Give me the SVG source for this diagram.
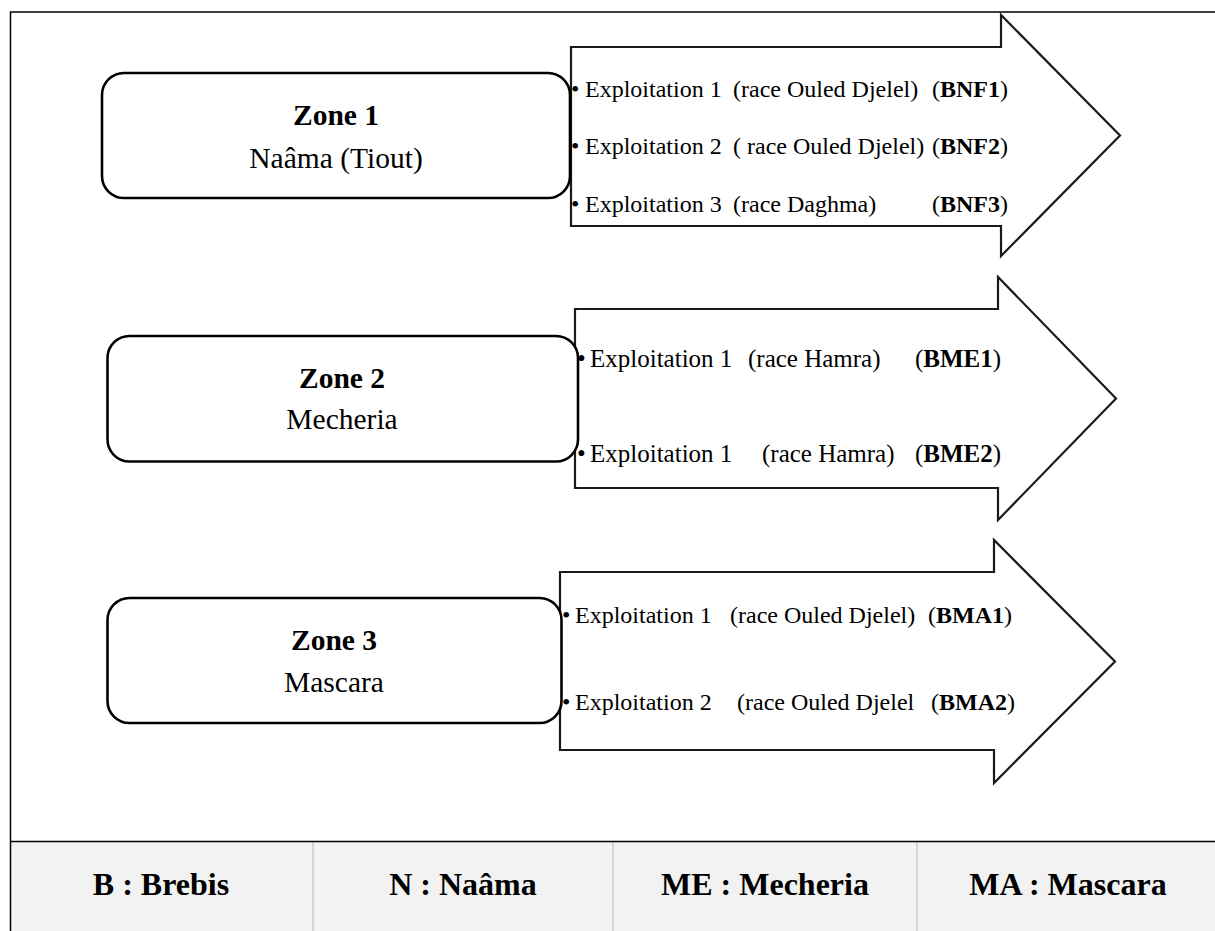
<svg xmlns="http://www.w3.org/2000/svg" width="1215" height="931" viewBox="0 0 1215 931">
<style>
.frame{fill:none;stroke:#000;stroke-width:1.5}
.arrow{fill:#fff;stroke:#1a1a1a;stroke-width:2.2;stroke-linejoin:miter}
.zone{fill:#fff;stroke:#000;stroke-width:2.6}
.t{font-family:"Liberation Serif","Times New Roman",serif;fill:#000;white-space:pre}
.b{font-weight:bold}
.a1{font-size:24px}
.a2{font-size:25px}
.zt{font-size:29.5px;text-anchor:middle}
.leg{font-size:32px;font-weight:bold;text-anchor:middle}
.cell{fill:#f2f2f2}
.div{stroke:#c0c0c0;stroke-width:1.2}
</style>
<rect x="0" y="0" width="1215" height="931" fill="#fff"/>
<g id="legend">
<rect class="cell" x="11" y="842" width="1204" height="89"/>
<line class="div" x1="313" y1="842" x2="313" y2="931"/>
<line class="div" x1="613" y1="842" x2="613" y2="931"/>
<line class="div" x1="917" y1="842" x2="917" y2="931"/>
<line x1="10" y1="841.5" x2="1215" y2="841.5" stroke="#000" stroke-width="1.5"/>
<text class="t leg" x="161" y="895">B : Brebis</text>
<text class="t leg" x="463" y="895">N : Naâma</text>
<text class="t leg" x="765" y="895">ME : Mecheria</text>
<text class="t leg" x="1068" y="895">MA : Mascara</text>
</g>
<path class="frame" d="M1215,12 H10.5 V931"/>
<g id="connectors">
<path id="arrow1" class="arrow" d="M571,47 H1001 V15 L1120,135.5 L1001,256 V226 H571 Z"/>
<path id="arrow2" class="arrow" d="M575,309 H998 V277 L1116,398.5 L998,520 V488 H575 Z"/>
<path id="arrow3" class="arrow" d="M560,572 H994 V540 L1115,661.5 L994,783 V750 H560 Z"/>
</g>
<g id="zone1">
<rect class="zone" x="102" y="73" width="468" height="125" rx="22" ry="22"/>
<text class="t zt b" x="336" y="125">Zone 1</text>
<text class="t zt" x="336" y="168">Naâma (Tiout)</text>
</g>
<g id="zone2">
<rect class="zone" x="107.5" y="336" width="470.5" height="125.5" rx="22" ry="22"/>
<text class="t zt b" x="342" y="388">Zone 2</text>
<text class="t zt" x="342" y="429">Mecheria</text>
</g>
<g id="zone3">
<rect class="zone" x="107.5" y="598" width="454" height="125" rx="22" ry="22"/>
<text class="t zt b" x="334" y="650">Zone 3</text>
<text class="t zt" x="334" y="692">Mascara</text>
</g>
<g id="items1">
<text class="t a1" y="97"><tspan x="571">•</tspan><tspan x="585">Exploitation 1</tspan><tspan x="733">(race Ouled Djelel)</tspan></text>
<text class="t a1" x="1008" y="97" text-anchor="end">(<tspan class="b">BNF1</tspan>)</text>
<text class="t a1" y="154"><tspan x="571">•</tspan><tspan x="585">Exploitation 2</tspan><tspan x="733">( race Ouled Djelel)</tspan></text>
<text class="t a1" x="1008" y="154" text-anchor="end">(<tspan class="b">BNF2</tspan>)</text>
<text class="t a1" y="212"><tspan x="571">•</tspan><tspan x="585">Exploitation 3</tspan><tspan x="733">(race Daghma)</tspan></text>
<text class="t a1" x="1008" y="212" text-anchor="end">(<tspan class="b">BNF3</tspan>)</text>
</g>
<g id="items2">
<text class="t a2" y="367"><tspan x="577">•</tspan><tspan x="590">Exploitation 1</tspan><tspan x="748">(race Hamra)</tspan></text>
<text class="t a2" x="1001" y="367" text-anchor="end">(<tspan class="b">BME1</tspan>)</text>
<text class="t a2" y="462"><tspan x="577">•</tspan><tspan x="590">Exploitation 1</tspan><tspan x="762">(race Hamra)</tspan></text>
<text class="t a2" x="1001" y="462" text-anchor="end">(<tspan class="b">BME2</tspan>)</text>
</g>
<g id="items3">
<text class="t a1" y="623"><tspan x="562">•</tspan><tspan x="575">Exploitation 1</tspan><tspan x="730">(race Ouled Djelel)</tspan></text>
<text class="t a1" x="1012" y="623" text-anchor="end">(<tspan class="b">BMA1</tspan>)</text>
<text class="t a1" y="710"><tspan x="562">•</tspan><tspan x="575">Exploitation 2</tspan><tspan x="737">(race Ouled Djelel</tspan></text>
<text class="t a1" x="1015" y="710" text-anchor="end">(<tspan class="b">BMA2</tspan>)</text>
</g>
</svg>
